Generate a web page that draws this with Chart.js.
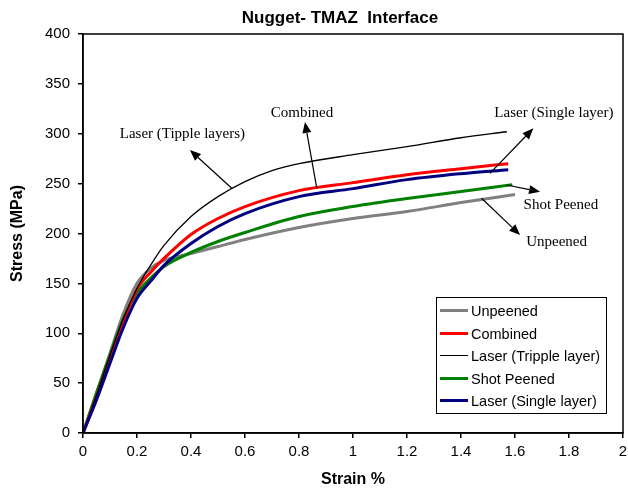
<!DOCTYPE html>
<html>
<head>
<meta charset="utf-8">
<script src="https://cdn.jsdelivr.net/npm/chart.js@4.4.0/dist/chart.umd.min.js"></script>
<style>
  html, body { margin: 0; padding: 0; background: #fff; }
</style>
</head>
<body>
<canvas id="chart" width="628" height="493"></canvas>
<script>
// Кривые растяжения: деформация, % -> напряжение, МПа
const unpeenedStrain = [0, 0.05, 0.1, 0.15, 0.2, 0.25, 0.3, 0.4, 0.5, 0.6, 0.8, 1.0, 1.2, 1.4, 1.6];
const unpeenedStress = [0, 40, 80, 120, 150, 165, 173, 180, 187, 194, 206, 215, 222, 231, 239];

const combinedStrain = [0, 0.05, 0.1, 0.15, 0.2, 0.25, 0.3, 0.4, 0.5, 0.6, 0.8, 1.0, 1.2, 1.4, 1.575];
const combinedStress = [0, 36, 74, 112, 144, 161, 175, 199, 215, 227, 243, 251, 259, 265, 270];

const tripleStrain = [0, 0.05, 0.1, 0.15, 0.2, 0.25, 0.3, 0.4, 0.5, 0.6, 0.7, 0.8, 1.0, 1.2, 1.4, 1.57];
const tripleStress = [0, 38, 78, 115, 145, 168, 188, 217, 237, 252, 263, 270, 279, 287, 296, 302];

const shotStrain = [0, 0.05, 0.1, 0.15, 0.2, 0.25, 0.3, 0.4, 0.5, 0.6, 0.8, 1.0, 1.2, 1.4, 1.59];
const shotStress = [0, 40, 78, 115, 140, 155, 167, 181, 192, 201, 217, 227, 235, 242, 249];

const singleStrain = [0, 0.05, 0.1, 0.15, 0.2, 0.25, 0.3, 0.4, 0.5, 0.6, 0.8, 1.0, 1.2, 1.4, 1.575];
const singleStress = [0, 33, 70, 106, 135, 152, 168, 190, 207, 220, 237, 245, 254, 260, 264];

const seriesNames = ["Unpeened", "Combined", "Laser (Tripple layer)", "Shot Peened", "Laser (Single layer)"];
const seriesColors = ["#808080", "#ff0000", "#000000", "#008000", "#000080"];
const seriesWidths = [3, 3, 1.3, 3, 3];
const drawOrder = [4, 2, 1, 3, 0]; // синяя линия поверх остальных

// Подписи со стрелками (в координатах данных)
const noteText = ["Laser (Tipple layers)", "Combined", "Laser (Single layer)", "Shot Peened", "Unpeened"];
const noteAt = [[0.368, 300], [0.811, 321], [1.744, 320.5], [1.770, 228.6], [1.754, 191.8]];
const arrowFrom = [[0.551, 245.3], [0.866, 245.3], [1.507, 260.3], [1.569, 248.6], [1.476, 235.3]];
const arrowTo = [[0.396, 283.7], [0.822, 311.8], [1.668, 305.4], [1.693, 241.9], [1.619, 198.5]];

const chartTitle = "Nugget- TMAZ  Interface";

function toPoints(xs, ys) {
  return xs.map((x, i) => ({ x: x, y: ys[i] }));
}

const allStrain = [unpeenedStrain, combinedStrain, tripleStrain, shotStrain, singleStrain];
const allStress = [unpeenedStress, combinedStress, tripleStress, shotStress, singleStress];

const datasets = seriesNames.map((name, i) => ({
  label: name,
  data: toPoints(allStrain[i], allStress[i]),
  borderColor: seriesColors[i],
  backgroundColor: seriesColors[i],
  borderWidth: seriesWidths[i],
  showLine: true,
  pointRadius: 0,
  cubicInterpolationMode: "monotone",
  order: drawOrder[i],
}));

function drawArrow(ctx, x1, y1, x2, y2) {
  const ang = Math.atan2(y2 - y1, x2 - x1);
  const len = 11, half = 4.5;
  const bx = x2 - len * Math.cos(ang), by = y2 - len * Math.sin(ang);
  ctx.beginPath();
  ctx.moveTo(x1, y1);
  ctx.lineTo(bx, by);
  ctx.stroke();
  ctx.beginPath();
  ctx.moveTo(x2, y2);
  ctx.lineTo(bx + half * Math.sin(ang), by - half * Math.cos(ang));
  ctx.lineTo(bx - half * Math.sin(ang), by + half * Math.cos(ang));
  ctx.closePath();
  ctx.fill();
}

const decor = {
  id: "decor",
  afterDatasetsDraw(chart) {
    const { ctx, chartArea: a, scales: { x, y } } = chart;
    ctx.save();

    // рамка области построения
    ctx.strokeStyle = "#000";
    ctx.lineWidth = 1.5;
    ctx.strokeRect(a.left, a.top, a.right - a.left, a.bottom - a.top);

    // стрелки и подписи
    ctx.lineWidth = 1.2;
    ctx.fillStyle = "#000";
    for (let i = 0; i < noteText.length; i++) {
      drawArrow(ctx,
        x.getPixelForValue(arrowFrom[i][0]), y.getPixelForValue(arrowFrom[i][1]),
        x.getPixelForValue(arrowTo[i][0]), y.getPixelForValue(arrowTo[i][1]));
    }
    ctx.font = "15px 'Liberation Serif', 'Times New Roman', serif";
    ctx.textAlign = "center";
    ctx.textBaseline = "middle";
    for (let i = 0; i < noteText.length; i++) {
      ctx.fillText(noteText[i], x.getPixelForValue(noteAt[i][0]), y.getPixelForValue(noteAt[i][1]));
    }

    // легенда
    const lx = 436, ly = 297, lw = 170, lh = 116, step = 22.5;
    ctx.fillStyle = "#fff";
    ctx.fillRect(lx, ly, lw, lh);
    ctx.strokeStyle = "#000";
    ctx.lineWidth = 1;
    ctx.strokeRect(lx + 0.5, ly + 0.5, lw, lh);
    ctx.font = "14.5px 'Liberation Sans', Arial, sans-serif";
    ctx.textAlign = "left";
    chart.data.datasets.forEach((ds, i) => {
      const ry = Math.round(ly + 13 + i * step) + 0.5;
      ctx.strokeStyle = ds.borderColor;
      ctx.lineWidth = ds.borderWidth < 2 ? 1 : ds.borderWidth;
      ctx.beginPath();
      ctx.moveTo(lx + 4, ry);
      ctx.lineTo(lx + 32, ry);
      ctx.stroke();
      ctx.fillStyle = "#000";
      ctx.fillText(ds.label, lx + 35, ry + 1);
    });

    // заголовок
    ctx.font = "bold 17px 'Liberation Sans', Arial, sans-serif";
    ctx.textAlign = "center";
    ctx.fillText(chartTitle, 340, 18);
    ctx.restore();
  },
};

new Chart(document.getElementById("chart").getContext("2d"), {
  type: "scatter",
  data: { datasets: datasets },
  options: {
    responsive: false,
    animation: false,
    layout: { padding: { top: 34, right: 0, left: 0, bottom: 0 } },
    plugins: {
      legend: { display: false },
      tooltip: { enabled: false },
      title: { display: false },
    },
    scales: {
      x: {
        type: "linear",
        min: 0,
        max: 2,
        ticks: {
          stepSize: 0.2,
          color: "#000",
          padding: 5,
          font: { family: "'Liberation Sans', Arial, sans-serif", size: 15 },
          callback: (v) => Math.round(v * 10) / 10,
        },
        grid: { drawOnChartArea: false, drawTicks: true, tickLength: 5, color: "#000", lineWidth: 1.5 },
        border: { color: "#000", width: 1.5 },
        title: {
          display: true,
          text: "Strain %",
          color: "#000",
          padding: { top: 0, bottom: 4 },
          font: { family: "'Liberation Sans', Arial, sans-serif", size: 16, weight: "bold" },
        },
        afterFit: (s) => { s.height = 60; s.paddingRight = 5; },
      },
      y: {
        min: 0,
        max: 400,
        ticks: {
          stepSize: 50,
          color: "#000",
          padding: 8,
          font: { family: "'Liberation Sans', Arial, sans-serif", size: 15 },
        },
        grid: { drawOnChartArea: false, drawTicks: true, tickLength: 5, color: "#000", lineWidth: 1.5 },
        border: { color: "#000", width: 1.5 },
        title: {
          display: true,
          text: "Stress (MPa)",
          color: "#000",
          padding: { top: 8, bottom: 0 },
          font: { family: "'Liberation Sans', Arial, sans-serif", size: 16, weight: "bold" },
        },
        afterFit: (s) => { s.width = 83; },
      },
    },
  },
  plugins: [decor],
});
</script>
</body>
</html>
